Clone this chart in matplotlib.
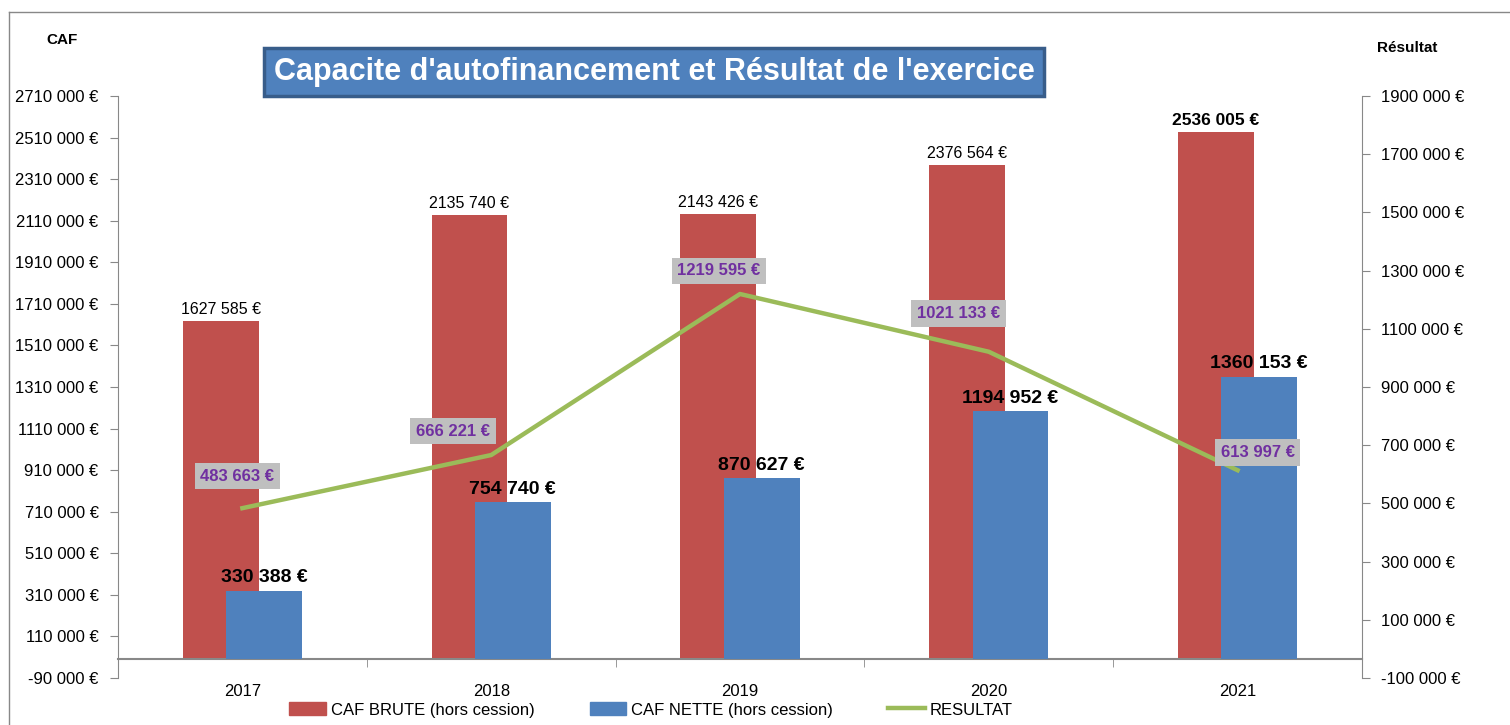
import matplotlib.pyplot as plt
import numpy as np
from matplotlib.lines import Line2D
from matplotlib.ticker import FuncFormatter

# données
annees = ["2017", "2018", "2019", "2020", "2021"]
caf_brute = [1627585, 2135740, 2143426, 2376564, 2536005]
caf_nette = [330388, 754740, 870627, 1194952, 1360153]
resultat = [483663, 666221, 1219595, 1021133, 613997]

ticks_caf = np.arange(-90000, 2710001, 200000)
ticks_res = np.arange(-100000, 1900001, 200000)

# décalage (pixels) des étiquettes du résultat, placées à la main comme dans Excel
decal_res = [(-5, 32), (-38, 24), (-21, 23), (-30, 38), (20, 18)]

rouge = "#C0504D"
bleu = "#4F81BD"
vert = "#9BBB59"
violet = "#7030A0"
plt.rcParams["font.family"] = ["Liberation Sans", "DejaVu Sans"]


def euro(v, pos=None):
    v = int(round(v))
    parts = f"{abs(v):,}".split(",")
    if len(parts) > 2:
        parts = [parts[0] + parts[1]] + parts[2:]
    s = " ".join(parts)
    return ("-" if v < 0 else "") + s + " €"


fig = plt.figure(figsize=(15.1, 7.25), dpi=100)
ax = fig.add_axes([118 / 1510, 1 - 678 / 725, 1244 / 1510, 582 / 725])
ax2 = ax.twinx()

x = np.arange(len(annees))
w = 0.305
ax.bar(x - 0.087, caf_brute, w, color=rouge, zorder=2)
ax.bar(x + 0.087, caf_nette, w, color=bleu, zorder=3)

for xi, v in zip(x, caf_brute):
    gras = v == caf_brute[-1]
    ax.annotate(euro(v), (xi - 0.087, v), xytext=(0, 3), textcoords="offset points",
                ha="center", va="bottom", fontsize=12.5 if gras else 11.5,
                fontweight="bold" if gras else "normal")
for xi, v in zip(x, caf_nette):
    ax.annotate(euro(v), (xi + 0.087, v), xytext=(0, 3), textcoords="offset points",
                ha="center", va="bottom", fontsize=14, fontweight="bold")

ax.set_xlim(-0.5, len(annees) - 0.5)
ax.set_ylim(-90000, 2710000)
ax.set_yticks(ticks_caf)
ax.yaxis.set_major_formatter(FuncFormatter(euro))
ax.set_xticks(x)
ax.set_xticklabels(annees)
ax.set_xticks(np.arange(-0.5, len(annees), 1.0), minor=True)
ax.tick_params(axis="x", which="major", length=0, pad=18, labelsize=12)
ax.tick_params(axis="x", which="minor", length=6, color="#888888", direction="out")
ax.tick_params(axis="y", labelsize=12, length=6, color="#888888", pad=8)
ax.spines["bottom"].set_position(("data", 0))
for s in ["top", "right"]:
    ax.spines[s].set_visible(False)
ax.spines["left"].set_color("#888888")
ax.spines["bottom"].set_color("#888888")
ax.spines["bottom"].set_linewidth(1.5)

ax2.plot(x, resultat, color=vert, lw=3.2, zorder=4)
ax2.set_ylim(-100000, 1900000)
ax2.set_yticks(ticks_res)
ax2.yaxis.set_major_formatter(FuncFormatter(euro))
ax2.tick_params(axis="y", labelsize=12, length=6, color="#888888", pad=8)
for s in ["top", "left", "bottom"]:
    ax2.spines[s].set_visible(False)
ax2.spines["right"].set_color("#888888")
for xi, v, (dx, dy) in zip(x, resultat, decal_res):
    ax2.annotate(euro(v), (xi, v), xytext=(dx * 0.72, dy * 0.72), textcoords="offset points",
                 ha="center", va="center", fontsize=12, fontweight="bold", color=violet,
                 bbox=dict(boxstyle="square,pad=0.35", fc="#BFBFBF", ec="none"), zorder=5)

# titres
fig.text(654 / 1510, 1 - 72 / 725, "Capacite d'autofinancement et Résultat de l'exercice",
         ha="center", va="center", fontsize=22, fontweight="bold", color="white",
         bbox=dict(boxstyle="square,pad=0.3", fc=bleu, ec="#385D8A", lw=2.5))
fig.text(62 / 1510, 1 - 40 / 725, "CAF", ha="center", va="center", fontsize=11, fontweight="bold")
fig.text(1407 / 1510, 1 - 48 / 725, "Résultat", ha="center", va="center", fontsize=11, fontweight="bold")

# légende
handles = [plt.Rectangle((0, 0), 1, 1, color=rouge),
           plt.Rectangle((0, 0), 1, 1, color=bleu),
           Line2D([0], [0], color=vert, lw=3.2)]
fig.legend(handles, ["CAF BRUTE (hors cession)", "CAF NETTE (hors cession)", "RESULTAT"],
           loc="center", bbox_to_anchor=(651 / 1510, 1 - 710 / 725), ncol=3, frameon=False,
           fontsize=12, handlelength=2.2, handleheight=0.8, handletextpad=0.3,
           columnspacing=3.3)

# cadre du graphique
fig.add_artist(Line2D([9 / 1510, 9 / 1510], [0, 1 - 12 / 725], color="#888888", lw=1))
fig.add_artist(Line2D([9 / 1510, 1], [1 - 12 / 725, 1 - 12 / 725], color="#888888", lw=1))

fig.savefig("out.png", dpi=100)
